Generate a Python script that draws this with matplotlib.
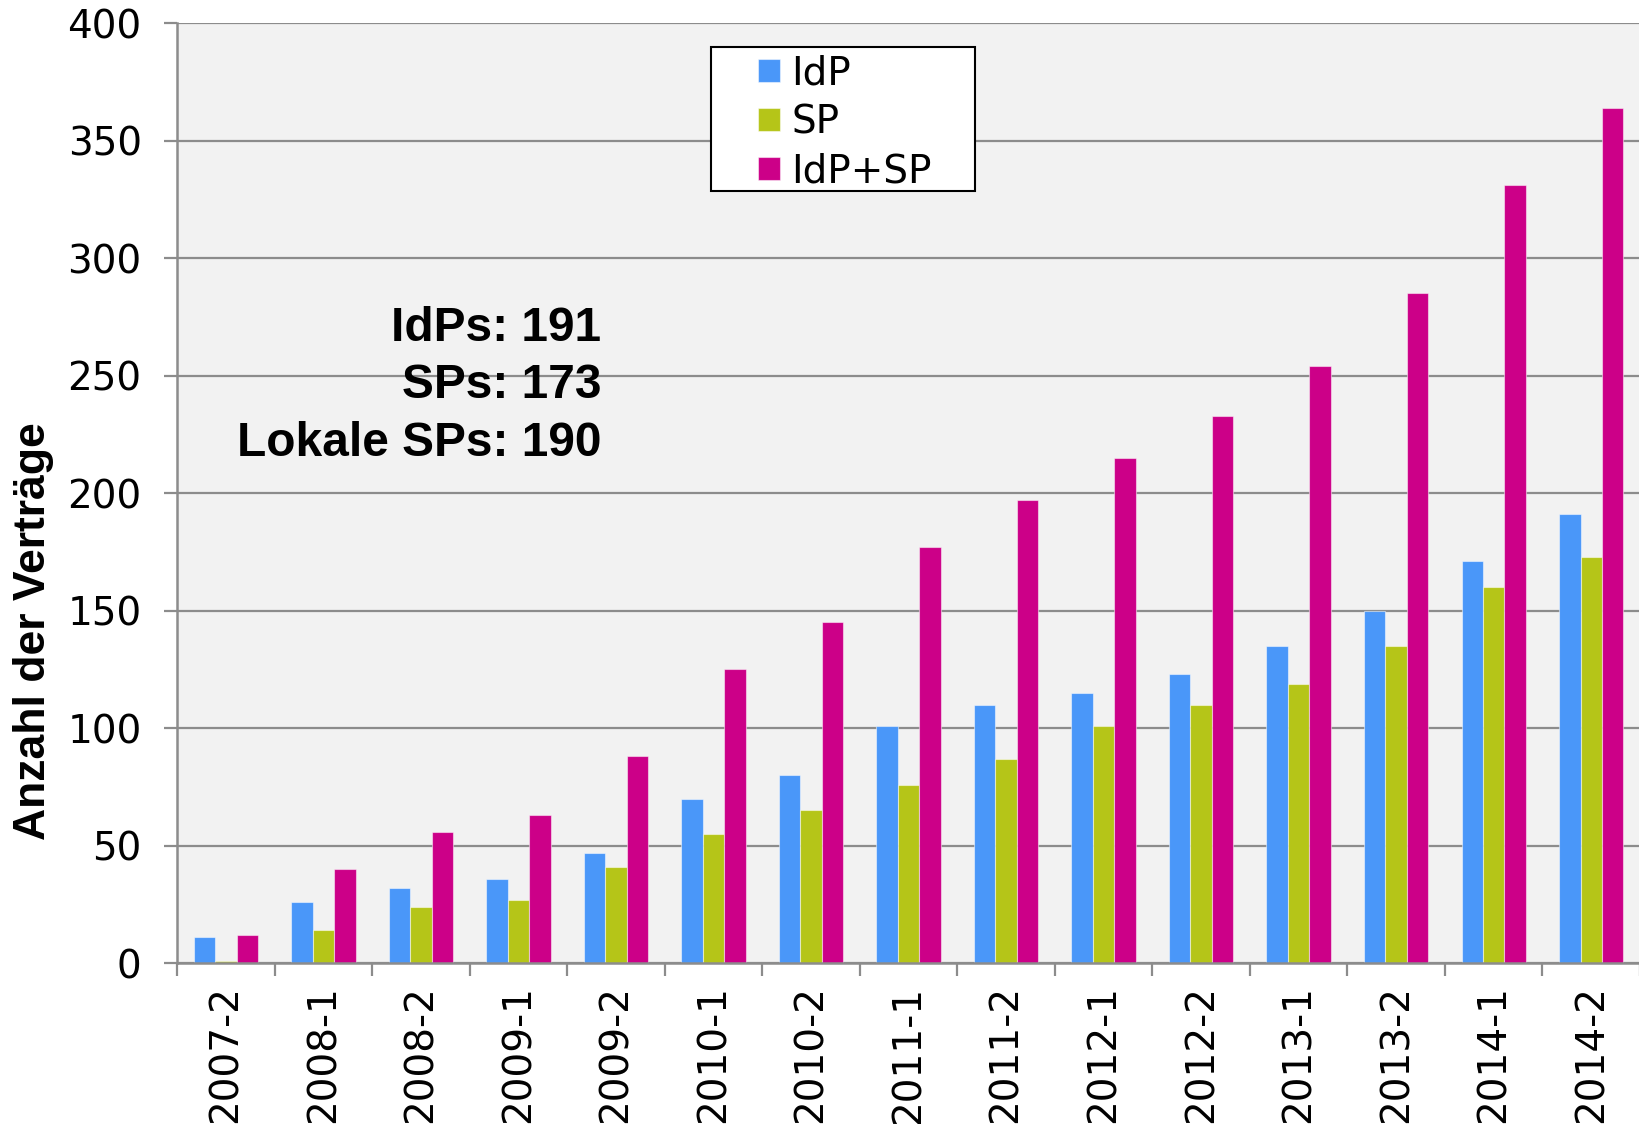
import matplotlib
matplotlib.use("Agg")
import matplotlib.pyplot as plt
import matplotlib.patches as patches
import numpy as np

# data
halbjahre = ['2007-2', '2008-1', '2008-2', '2009-1', '2009-2', '2010-1', '2010-2', '2011-1',
             '2011-2', '2012-1', '2012-2', '2013-1', '2013-2', '2014-1', '2014-2']
idp = [11, 26, 32, 36, 47, 70, 80, 101, 110, 115, 123, 135, 150, 171, 191]
sp = [1, 14, 24, 27, 41, 55, 65, 76, 87, 101, 110, 119, 135, 160, 173]
idp_sp = [12, 40, 56, 63, 88, 125, 145, 177, 197, 215, 233, 254, 285, 331, 364]
series_names = ['IdP', 'SP', 'IdP+SP']
series_colors = ['#4A97F9', '#B5C518', '#CC0088']
summary_lines = ['IdPs: 191', 'SPs: 173', 'Lokale SPs: 190']

GRID_GRAY = '#8C8C8C'
BAR_W = 0.22

fig = plt.figure(figsize=(16.4, 11.24), dpi=100)
ax = fig.add_axes([0.108, 0.143, 0.892, 0.8365])
ax.set_facecolor('#F2F2F2')

x = np.arange(len(halbjahre))
for i, (vals, name, col) in enumerate(zip([idp, sp, idp_sp], series_names, series_colors)):
    ax.bar(x + (i - 1) * BAR_W, vals, BAR_W, color=col, label=name,
           edgecolor=(1, 1, 1, 0.5), linewidth=0.8, zorder=2)

ax.set_xlim(-0.5, len(halbjahre) - 0.5)
ax.set_ylim(0, 400)
ax.set_yticks(np.arange(0, 401, 50))
ax.grid(axis='y', color=GRID_GRAY, linewidth=1.6, zorder=1)
ax.set_axisbelow(True)

# x ticks: marks at the slot borders, labels at the slot centres
ax.set_xticks(np.arange(-0.5, len(halbjahre), 1.0))
ax.set_xticklabels([])
ax.set_xticks(x, minor=True)
ax.set_xticklabels(halbjahre, minor=True, rotation=90, fontsize=28, family='DejaVu Sans')
ax.tick_params(axis='x', which='major', length=9.5, width=1.6, color=GRID_GRAY, direction='out')
ax.tick_params(axis='x', which='minor', length=0, pad=16)
ax.tick_params(axis='y', length=9.5, width=1.6, color=GRID_GRAY, pad=16, labelsize=28)
for lbl in ax.get_yticklabels():
    lbl.set_family('DejaVu Sans')

for side in ['top', 'right']:
    ax.spines[side].set_visible(False)
for side in ['left', 'bottom']:
    ax.spines[side].set_color(GRID_GRAY)
    ax.spines[side].set_linewidth(1.8)

ax.set_ylabel('Anzahl der Verträge', fontsize=32, fontweight='bold',
              family='Liberation Sans')
ax.yaxis.set_label_coords(-0.084, 0.353)

ax.text(0.29, 0.614, '\n'.join(summary_lines), transform=ax.transAxes,
        ha='right', va='center', multialignment='right', linespacing=1.37,
        fontsize=34.5, fontweight='bold', family='Liberation Sans', zorder=3)

# legend box drawn by hand, legend entries centred inside it
box = patches.Rectangle((0.365, 0.8213), 0.1805, 0.1532, transform=ax.transAxes,
                        facecolor='white', edgecolor='black', linewidth=1.5, zorder=5)
ax.add_patch(box)
leg = ax.legend(loc='center', bbox_to_anchor=(0.4565, 0.8945), frameon=False,
                prop={'family': 'DejaVu Sans', 'size': 28},
                handlelength=0.55, handleheight=0.55, handletextpad=0.3,
                labelspacing=0.28, borderpad=0)
leg.set_zorder(6)

fig.savefig('out.png', dpi=100)
